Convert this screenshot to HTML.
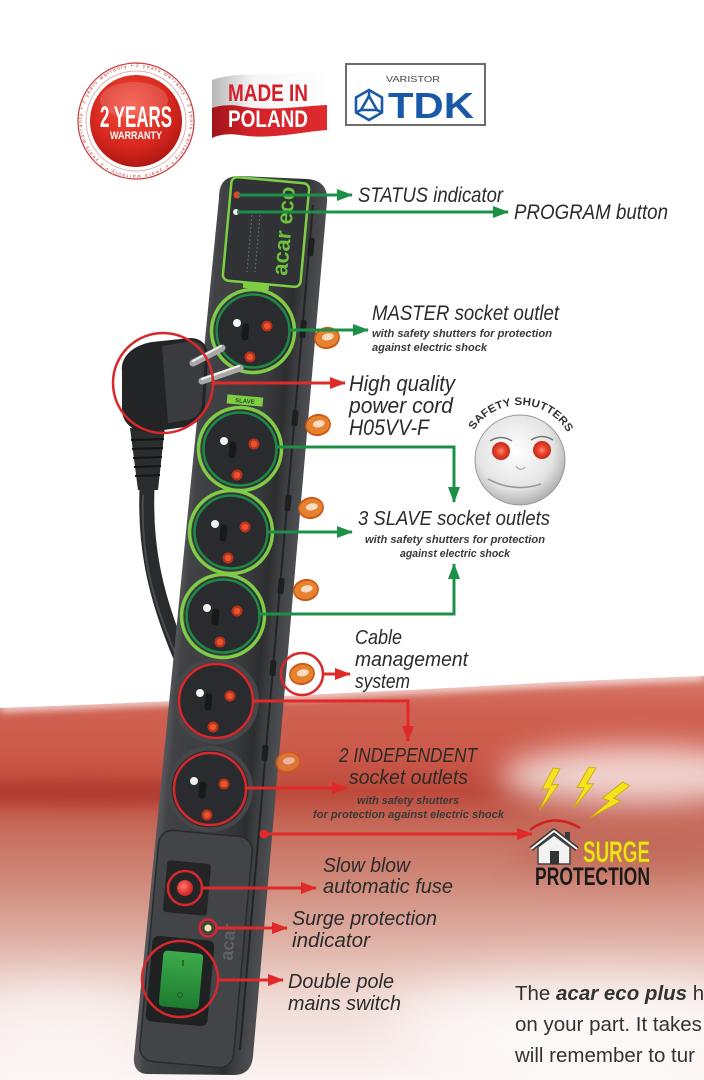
<!DOCTYPE html>
<html><head><meta charset="utf-8">
<style>
html,body{margin:0;padding:0;background:#fff;overflow:hidden;width:704px;height:1080px;}
svg{display:block;overflow:hidden;}
text{font-family:"Liberation Sans",sans-serif;}
.lbl{font-style:italic;fill:#2b2b2b;font-size:21px;}
.sub{font-style:italic;font-weight:bold;fill:#3a3a3a;font-size:11px;}
.par{fill:#333;font-size:20.5px;}
</style></head><body>
<svg width="704" height="1080" viewBox="0 0 704 1080" xmlns="http://www.w3.org/2000/svg">
<defs>
 <clipPath id="vp"><rect x="0" y="0" width="704" height="1080"/></clipPath>
 <linearGradient id="bg" gradientUnits="userSpaceOnUse" x1="0" y1="680" x2="0" y2="1080">
  <stop offset="0" stop-color="#d8786a"/>
  <stop offset="0.07" stop-color="#cf6252"/>
  <stop offset="0.18" stop-color="#cc5a4a"/>
  <stop offset="0.28" stop-color="#bd4a3b"/>
  <stop offset="0.38" stop-color="#c86e5e"/>
  <stop offset="0.5" stop-color="#cf8878"/>
  <stop offset="0.65" stop-color="#dfb0a5"/>
  <stop offset="0.8" stop-color="#f0dbd5"/>
  <stop offset="1" stop-color="#fbf4f2"/>
 </linearGradient>
 <filter id="b4" filterUnits="userSpaceOnUse" x="0" y="600" width="704" height="480"><feGaussianBlur stdDeviation="4"/></filter>
 <filter id="b5" filterUnits="userSpaceOnUse" x="0" y="600" width="704" height="480"><feGaussianBlur stdDeviation="5"/></filter>
 <filter id="b15" filterUnits="userSpaceOnUse" x="0" y="600" width="704" height="480"><feGaussianBlur stdDeviation="15"/></filter>
 <filter id="b28" filterUnits="userSpaceOnUse" x="0" y="600" width="704" height="480"><feGaussianBlur stdDeviation="28"/></filter>
 <linearGradient id="strip" gradientUnits="userSpaceOnUse" x1="176" y1="622" x2="288" y2="632">
  <stop offset="0" stop-color="#55575a"/>
  <stop offset="0.08" stop-color="#404245"/>
  <stop offset="0.6" stop-color="#393b3e"/>
  <stop offset="0.78" stop-color="#2d2e30"/>
  <stop offset="0.86" stop-color="#3c3d40"/>
  <stop offset="1" stop-color="#4c4d50"/>
 </linearGradient>
 <radialGradient id="wred" cx="0.45" cy="0.35" r="0.7">
  <stop offset="0" stop-color="#f5533f"/>
  <stop offset="0.6" stop-color="#d8281f"/>
  <stop offset="1" stop-color="#a81510"/>
 </radialGradient>
 <radialGradient id="face" cx="0.45" cy="0.4" r="0.65">
  <stop offset="0" stop-color="#ffffff"/>
  <stop offset="0.65" stop-color="#e4e4e4"/>
  <stop offset="1" stop-color="#a5a5a5"/>
 </radialGradient>
 <radialGradient id="eye" cx="0.5" cy="0.5" r="0.5">
  <stop offset="0" stop-color="#ff8a6a"/>
  <stop offset="0.5" stop-color="#e8442c"/>
  <stop offset="1" stop-color="#c02a1a"/>
 </radialGradient>
 <radialGradient id="fuse" cx="0.4" cy="0.4" r="0.6">
  <stop offset="0" stop-color="#ff7a6a"/>
  <stop offset="1" stop-color="#d01e1e"/>
 </radialGradient>
 <linearGradient id="sw" x1="0" y1="0" x2="0" y2="1">
  <stop offset="0" stop-color="#3cab4c"/>
  <stop offset="1" stop-color="#1e7c30"/>
 </linearGradient>
 <linearGradient id="flagw" x1="0" y1="0" x2="1" y2="0">
  <stop offset="0" stop-color="#b8b8b8"/>
  <stop offset="0.35" stop-color="#f4f4f4"/>
  <stop offset="1" stop-color="#ffffff"/>
 </linearGradient>
 <linearGradient id="flagr" x1="0" y1="0" x2="1" y2="0">
  <stop offset="0" stop-color="#a0141a"/>
  <stop offset="0.35" stop-color="#d6222a"/>
  <stop offset="1" stop-color="#dc2a2e"/>
 </linearGradient>
 <marker id="ag" markerUnits="userSpaceOnUse" markerWidth="16" markerHeight="12" refX="15" refY="6" orient="auto"><path d="M0,0 L16,6 L0,12 Z" fill="#1d9048"/></marker>
 <marker id="ar" markerUnits="userSpaceOnUse" markerWidth="16" markerHeight="12" refX="15" refY="6" orient="auto"><path d="M0,0 L16,6 L0,12 Z" fill="#e02a2a"/></marker>
 <g id="sock">
  <circle r="38.5" fill="#2a2b2e"/>
  <rect x="-11" y="-7" width="7" height="17" rx="3" fill="#18191b" transform="rotate(5)"/>
  <circle cx="-16" cy="-8" r="4" fill="#f2f2f2"/>
  <circle cx="14" cy="-5" r="5.5" fill="#b8321c"/><circle cx="14" cy="-5" r="3.2" fill="#ea5530"/>
  <circle cx="-3" cy="26" r="5.5" fill="#b8321c"/><circle cx="-3" cy="26" r="3.2" fill="#ea5530"/>
 </g>
 <g id="clip">
  <ellipse rx="13" ry="11" fill="#c95a16"/>
  <ellipse rx="11.5" ry="9" fill="#e6822f"/>
  <ellipse cx="1" cy="-1" rx="6" ry="3.5" fill="#f7dcc2"/>
 </g>
 <path id="bolt" d="M0,0 L-9,22 L-2,21 L-10,44 L7,16 L0,17 L7,0 Z"/>
 <path id="ring" d="M136,67 A54,54 0 1,1 135.9,67"/>
 <path id="arc" d="M472.8,431.8 A55,55 0 0,1 567.2,431.8"/>
</defs>
<g clip-path="url(#vp)">
<!-- background -->
<rect width="704" height="1080" fill="#fff"/>
<path d="M0,708 C120,704 380,692 540,683 C620,679 680,677 704,676 L704,1080 L0,1080 Z" fill="url(#bg)"/>
<path d="M0,708 C120,704 380,692 540,683 C620,679 680,677 704,676" fill="none" stroke="#fff" stroke-width="8" opacity="0.8" filter="url(#b4)"/>
<ellipse cx="90" cy="793" rx="180" ry="14" fill="#a8322a" opacity="0.5" filter="url(#b5)"/>
<ellipse cx="640" cy="776" rx="140" ry="30" fill="#fff" opacity="0.75" filter="url(#b15)"/>
<ellipse cx="630" cy="853" rx="120" ry="20" fill="#b55a4b" opacity="0.45" filter="url(#b15)"/>
<ellipse cx="600" cy="1030" rx="210" ry="48" fill="#fff" opacity="0.8" filter="url(#b28)"/>
<ellipse cx="60" cy="1030" rx="100" ry="45" fill="#fff" opacity="0.6" filter="url(#b28)"/>

<!-- logos -->
<circle cx="136" cy="121" r="58" fill="#fff" stroke="#c83a3a" stroke-width="1.2"/>
<circle cx="136" cy="121" r="50" fill="none" stroke="#d9a0a0" stroke-width="0.8"/>
<text font-size="5" fill="#c33" textLength="335"><textPath href="#ring">2 years warranty • 2 years warranty • 2 years warranty • 2 years warranty • 2 years warranty •</textPath></text>
<circle cx="136" cy="121" r="46" fill="url(#wred)"/>
<ellipse cx="134" cy="100" rx="34" ry="18" fill="#fff" opacity="0.15"/>
<text x="100" y="127" font-size="30" font-weight="bold" fill="#fff" textLength="72" lengthAdjust="spacingAndGlyphs">2 YEARS</text>
<text x="110" y="139" font-size="11" font-weight="bold" fill="#fff" textLength="52" lengthAdjust="spacingAndGlyphs">WARRANTY</text>

<path d="M212,80 C240,70 270,78 300,72 C312,70 320,70 327,72 L327,105 C300,106 270,112 240,106 C228,104 218,106 212,108 Z" fill="url(#flagw)"/>
<path d="M212,108 C218,106 228,104 240,106 C270,112 300,106 327,105 L327,130 C300,132 270,140 240,135 C228,133 218,135 212,138 Z" fill="url(#flagr)"/>
<text x="228" y="101" font-size="24" font-weight="bold" fill="#d4202a" textLength="80" lengthAdjust="spacingAndGlyphs">MADE IN</text>
<text x="228" y="127" font-size="24" font-weight="bold" fill="#fff" textLength="80" lengthAdjust="spacingAndGlyphs">POLAND</text>

<rect x="346" y="64" width="139" height="61" fill="#fff" stroke="#6d6d6d" stroke-width="2"/>
<text x="386" y="82" font-size="8.5" fill="#444" textLength="54" lengthAdjust="spacingAndGlyphs">VARISTOR</text>
<g fill="none" stroke="#1b5aa6" stroke-width="2.6">
 <polygon points="369,90 382,97.5 382,112.5 369,120 356,112.5 356,97.5"/>
 <polygon points="369,96 377,110 361,110"/>
 <line x1="369" y1="90" x2="369" y2="96"/><line x1="382" y1="112.5" x2="377" y2="110"/><line x1="356" y1="112.5" x2="361" y2="110"/>
</g>
<text x="388" y="118" font-size="36" font-weight="bold" fill="#1a58a8" textLength="86" lengthAdjust="spacingAndGlyphs">TDK</text>

<!-- cord -->
<path d="M147,488 C145,540 152,590 182,660" stroke="#2a2b2d" stroke-width="15" fill="none" stroke-linecap="round"/>
<path d="M143,495 C141,545 148,592 176,655" stroke="#4a4b4e" stroke-width="2" fill="none"/>

<!-- strip -->
<path d="M219,198 C219,182 226,176 240,176 L307,179 C322,180 328,188 327,202 L253,1056 C252,1068 246,1075 234,1075 L148,1074 C138,1074 133,1067 134,1057 Z" fill="url(#strip)"/>
<line x1="313" y1="205" x2="240" y2="1050" stroke="#232426" stroke-width="2"/>
<g fill="#1e1f21">
 <rect x="308" y="238" width="6" height="18" rx="2" transform="rotate(5 311 247)"/>
 <rect x="300" y="320" width="6" height="18" rx="2" transform="rotate(5 303 329)"/>
 <rect x="292" y="410" width="6" height="16" rx="2" transform="rotate(5 295 418)"/>
 <rect x="285" y="495" width="6" height="16" rx="2" transform="rotate(5 288 503)"/>
 <rect x="278" y="578" width="6" height="16" rx="2" transform="rotate(5 281 586)"/>
 <rect x="270" y="660" width="6" height="16" rx="2" transform="rotate(5 273 668)"/>
 <rect x="262" y="745" width="6" height="16" rx="2" transform="rotate(5 265 753)"/>
</g>

<!-- top panel -->
<rect x="227" y="180" width="78" height="104" rx="6" fill="#303236" stroke="#7fcf45" stroke-width="2.5" transform="rotate(5.24 266 232)"/>
<g stroke="#6a6d70" stroke-width="1" stroke-dasharray="2 2">
 <line x1="252" y1="215" x2="247" y2="272"/><line x1="260" y1="215" x2="255" y2="272"/>
</g>
<text transform="translate(283,231) rotate(-84.76)" text-anchor="middle" font-size="22" font-weight="bold" fill="#6cc23c" y="8">acar eco</text>
<circle cx="237" cy="195" r="3.5" fill="#e2432a"/>
<circle cx="236" cy="212" r="3" fill="#eee"/>
<rect x="243" y="283" width="26" height="6" fill="#7fcf45" transform="rotate(5.24 256 286)"/>
<rect x="227" y="396" width="36" height="9" fill="#7fcf45" transform="rotate(5.24 245 400)"/>
<text x="245" y="403" font-size="6" font-weight="bold" fill="#2a4a20" text-anchor="middle" transform="rotate(5.24 245 400)">SLAVE</text>

<!-- lower module -->
<rect x="149" y="833" width="94" height="232" rx="14" fill="#424447" stroke="#2a2b2d" stroke-width="1.5" transform="rotate(5.24 196 949)"/>
<rect x="165" y="862" width="44" height="52" rx="3" fill="#242527" transform="rotate(5.24 187 888)"/>
<rect x="149" y="938" width="62" height="86" rx="6" fill="#202123" transform="rotate(5.24 180 981)"/>
<rect x="161" y="952" width="40" height="56" rx="4" fill="url(#sw)" transform="rotate(5.24 181 980)"/>
<line x1="183" y1="960" x2="183" y2="966" stroke="#1a5a25" stroke-width="1.5"/>
<circle cx="180" cy="995" r="2.5" fill="none" stroke="#1a5a25" stroke-width="1"/>
<text transform="translate(228,942) rotate(-84.76)" text-anchor="middle" font-size="18" font-weight="bold" fill="#606266" y="6">acar</text>
<circle cx="185" cy="888" r="8" fill="url(#fuse)"/>
<circle cx="208" cy="928" r="3.5" fill="#f2eaa0"/>

<!-- sockets -->
<circle cx="216" cy="701" r="43" fill="#45474a"/>
<circle cx="210" cy="789" r="43" fill="#45474a"/>
<use href="#sock" x="216" y="701"/>
<use href="#sock" x="210" y="789"/>
<g fill="none" stroke="#80cc46" stroke-width="3.5">
 <circle cx="253" cy="331" r="41.5"/>
 <circle cx="240" cy="449" r="41.5"/>
 <circle cx="231" cy="532" r="41.5"/>
 <circle cx="223" cy="616" r="41.5"/>
</g>
<use href="#sock" x="253" y="331"/>
<use href="#sock" x="240" y="449"/>
<use href="#sock" x="231" y="532"/>
<use href="#sock" x="223" y="616"/>
<g fill="none" stroke="#1f8a46" stroke-width="2.5">
 <circle cx="253" cy="331" r="36.5"/>
 <circle cx="240" cy="449" r="36.5"/>
 <circle cx="231" cy="532" r="36.5"/>
 <circle cx="223" cy="616" r="36.5"/>
</g>

<!-- clips -->
<use href="#clip" transform="translate(327,338) rotate(-10)"/>
<use href="#clip" transform="translate(318,425) rotate(-10)"/>
<use href="#clip" transform="translate(311,508) rotate(-10)"/>
<use href="#clip" transform="translate(306,590) rotate(-10)"/>
<use href="#clip" transform="translate(302,674) rotate(-10)"/>
<use href="#clip" transform="translate(288,762) rotate(-10)" opacity="0.7"/>

<!-- plug -->
<path d="M130,428 L165,426 L158,490 L138,490 Z" fill="#2b2c2e"/>
<g stroke="#141414" stroke-width="2">
 <line x1="131" y1="440" x2="164" y2="439"/><line x1="132" y1="449" x2="163" y2="448"/>
 <line x1="133" y1="458" x2="162" y2="457"/><line x1="134" y1="467" x2="161" y2="466"/>
 <line x1="135" y1="476" x2="160" y2="475"/>
</g>
<path d="M122,372 C120,355 135,345 152,342 L190,338 C202,338 208,346 208,356 L205,405 C204,418 196,425 185,427 L150,432 C135,433 124,425 122,412 Z" fill="#232426"/>
<path d="M162,346 L192,341 Q205,342 205,356 L202,404 Q200,417 188,420 L168,423 Z" fill="#3a3b3e"/>
<line x1="193" y1="363" x2="222" y2="348" stroke="#a8a8a8" stroke-width="7" stroke-linecap="round"/>
<line x1="193" y1="361" x2="221" y2="346" stroke="#f0f0f0" stroke-width="2" stroke-linecap="round"/>
<line x1="202" y1="381" x2="240" y2="368" stroke="#a8a8a8" stroke-width="7" stroke-linecap="round"/>
<line x1="202" y1="379" x2="239" y2="366" stroke="#f0f0f0" stroke-width="2" stroke-linecap="round"/>

<!-- red annotation circles -->
<g fill="none" stroke="#d8282b" stroke-width="2.5">
 <circle cx="163" cy="383" r="50"/>
 <circle cx="302" cy="674" r="21"/>
 <circle cx="216" cy="701" r="37"/>
 <circle cx="210" cy="789" r="36"/>
 <circle cx="185" cy="888" r="17"/>
 <circle cx="208" cy="928" r="8.5"/>
 <circle cx="180" cy="979" r="38"/>
</g>
<circle cx="264" cy="834" r="4.5" fill="#e02a2a"/>

<!-- green arrows -->
<g stroke="#1d9048" stroke-width="3" fill="none" marker-end="url(#ag)">
 <line x1="238" y1="195" x2="352" y2="195"/>
 <line x1="237" y1="212" x2="508" y2="212"/>
 <line x1="290" y1="330" x2="368" y2="330"/>
 <path d="M277,447 H454 V502"/>
 <line x1="268" y1="532" x2="352" y2="532"/>
 <path d="M260,614 H454 V564"/>
</g>
<!-- red arrows -->
<g stroke="#e02a2a" stroke-width="3" fill="none" marker-end="url(#ar)">
 <line x1="213" y1="383" x2="345" y2="383"/>
 <line x1="323" y1="674" x2="350" y2="674"/>
 <path d="M253,701 H408 V741"/>
 <line x1="246" y1="788" x2="347" y2="788"/>
 <line x1="264" y1="834" x2="532" y2="834"/>
 <line x1="202" y1="888" x2="316" y2="888"/>
 <line x1="217" y1="928" x2="287" y2="928"/>
 <line x1="218" y1="980" x2="283" y2="980"/>
</g>

<!-- safety shutters face -->
<circle cx="520" cy="460" r="45" fill="url(#face)" stroke="#999" stroke-width="1"/>
<path d="M490,441 Q501,434 512,441" fill="none" stroke="#777" stroke-width="1.5"/>
<path d="M531,440 Q542,433 553,440" fill="none" stroke="#777" stroke-width="1.5"/>
<circle cx="501" cy="451" r="9" fill="url(#eye)"/>
<circle cx="542" cy="450" r="9" fill="url(#eye)"/>
<path d="M516,466 Q520,472 525,467" fill="none" stroke="#aaa" stroke-width="1.2"/>
<path d="M488,479 Q514,493 541,484" fill="none" stroke="#9a9a9a" stroke-width="1.6"/>
<text font-size="11" font-weight="bold" fill="#333" textLength="112" lengthAdjust="spacingAndGlyphs"><textPath href="#arc" startOffset="2">SAFETY SHUTTERS</textPath></text>

<!-- surge protection logo -->
<g fill="#f4e21e" stroke="#c9a800" stroke-width="0.8">
 <use href="#bolt" transform="translate(553,768) rotate(5)"/>
 <use href="#bolt" transform="translate(589,767) rotate(8)"/>
 <use href="#bolt" transform="translate(623,782) rotate(30) scale(1.1)"/>
</g>
<path d="M530,830 Q553,812 580,828" fill="none" stroke="#d02020" stroke-width="2.5"/>
<rect x="565" y="832" width="5" height="10" fill="#3a3a3a"/>
<path d="M538,847 L554,835 L570,847 L570,864 L538,864 Z" fill="#f2f2f2" stroke="#444" stroke-width="1.5"/>
<path d="M531,849 L554,831 L577,849" fill="none" stroke="#3a3a3a" stroke-width="5" stroke-linejoin="round"/>
<path d="M531,849 L554,831 L577,849" fill="none" stroke="#fff" stroke-width="1.8" stroke-linejoin="round"/>
<rect x="550" y="851" width="9" height="13" fill="#333"/>
<text x="583" y="862" font-size="30" font-weight="bold" fill="#f0e31c" stroke="#b5a500" stroke-width="0.5" textLength="67" lengthAdjust="spacingAndGlyphs">SURGE</text>
<text x="535" y="885" font-size="25" font-weight="bold" fill="#1a1a1a" textLength="115" lengthAdjust="spacingAndGlyphs">PROTECTION</text>

<!-- labels -->
<text class="lbl" x="358" y="202" textLength="145" lengthAdjust="spacingAndGlyphs">STATUS indicator</text>
<text class="lbl" x="514" y="219" textLength="154" lengthAdjust="spacingAndGlyphs">PROGRAM button</text>
<text class="lbl" x="372" y="320" textLength="187" lengthAdjust="spacingAndGlyphs">MASTER socket outlet</text>
<text class="sub" x="372" y="337" textLength="180" lengthAdjust="spacingAndGlyphs">with safety shutters for protection</text>
<text class="sub" x="372" y="351" textLength="115" lengthAdjust="spacingAndGlyphs">against electric shock</text>
<text class="lbl" x="349" y="391" style="font-size:22px" textLength="106" lengthAdjust="spacingAndGlyphs">High quality</text>
<text class="lbl" x="349" y="413" style="font-size:22px" textLength="104" lengthAdjust="spacingAndGlyphs">power cord</text>
<text class="lbl" x="349" y="435" style="font-size:22px" textLength="80" lengthAdjust="spacingAndGlyphs">H05VV-F</text>
<text class="lbl" x="358" y="525" style="font-size:20px" textLength="192" lengthAdjust="spacingAndGlyphs">3 SLAVE socket outlets</text>
<text class="sub" x="365" y="543" textLength="180" lengthAdjust="spacingAndGlyphs">with safety shutters for protection</text>
<text class="sub" x="400" y="557" textLength="110" lengthAdjust="spacingAndGlyphs">against electric shock</text>
<text class="lbl" x="355" y="644" style="font-size:20px" textLength="47" lengthAdjust="spacingAndGlyphs">Cable</text>
<text class="lbl" x="355" y="666" style="font-size:20px" textLength="113" lengthAdjust="spacingAndGlyphs">management</text>
<text class="lbl" x="355" y="688" style="font-size:20px" textLength="55" lengthAdjust="spacingAndGlyphs">system</text>
<text class="lbl" x="339" y="762" style="font-size:20px" textLength="138" lengthAdjust="spacingAndGlyphs">2 INDEPENDENT</text>
<text class="lbl" x="349" y="784" style="font-size:20px" textLength="119" lengthAdjust="spacingAndGlyphs">socket outlets</text>
<text class="sub" x="357" y="804" textLength="102" lengthAdjust="spacingAndGlyphs">with safety shutters</text>
<text class="sub" x="313" y="818" textLength="191" lengthAdjust="spacingAndGlyphs">for protection against electric shock</text>
<text class="lbl" x="323" y="872" style="font-size:20px" textLength="87" lengthAdjust="spacingAndGlyphs">Slow blow</text>
<text class="lbl" x="323" y="893" style="font-size:20px" textLength="130" lengthAdjust="spacingAndGlyphs">automatic fuse</text>
<text class="lbl" x="292" y="925" style="font-size:20px" textLength="145" lengthAdjust="spacingAndGlyphs">Surge protection</text>
<text class="lbl" x="292" y="947" style="font-size:20px" textLength="78" lengthAdjust="spacingAndGlyphs">indicator</text>
<text class="lbl" x="288" y="988" style="font-size:20px" textLength="106" lengthAdjust="spacingAndGlyphs">Double pole</text>
<text class="lbl" x="288" y="1010" style="font-size:20px" textLength="113" lengthAdjust="spacingAndGlyphs">mains switch</text>

<!-- paragraph -->
<text class="par" x="515" y="1000">The <tspan font-weight="bold" font-style="italic">acar eco plus</tspan> h</text>
<text class="par" x="515" y="1031">on your part. It takes</text>
<text class="par" x="515" y="1062">will remember to tur</text>
</g>
</svg>
</body></html>
